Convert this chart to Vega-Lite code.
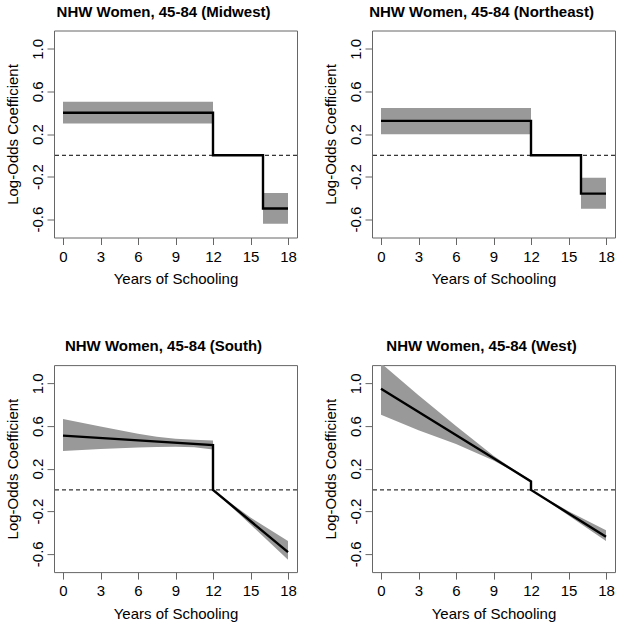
{
  "$schema": "https://vega.github.io/schema/vega-lite/v6.json",
  "background": "white",
  "padding": {"left": 4, "top": 3.5, "right": 0, "bottom": 0},
  "bounds": "flush",
  "columns": 2,
  "spacing": {"row": 127.6, "column": 75},
  "datasets": {
    "lines": [
      {"region": "Midwest", "i": 1, "x": 0, "y": 0.40},
      {"region": "Midwest", "i": 2, "x": 12, "y": 0.40},
      {"region": "Midwest", "i": 3, "x": 12, "y": 0},
      {"region": "Midwest", "i": 4, "x": 16, "y": 0},
      {"region": "Midwest", "i": 5, "x": 16, "y": -0.50},
      {"region": "Midwest", "i": 6, "x": 18, "y": -0.50},
      {"region": "Northeast", "i": 1, "x": 0, "y": 0.323},
      {"region": "Northeast", "i": 2, "x": 12, "y": 0.323},
      {"region": "Northeast", "i": 3, "x": 12, "y": 0},
      {"region": "Northeast", "i": 4, "x": 16, "y": 0},
      {"region": "Northeast", "i": 5, "x": 16, "y": -0.36},
      {"region": "Northeast", "i": 6, "x": 18, "y": -0.36},
      {"region": "South", "i": 1, "x": 0, "y": 0.51},
      {"region": "South", "i": 2, "x": 12, "y": 0.42},
      {"region": "South", "i": 3, "x": 12, "y": 0},
      {"region": "South", "i": 4, "x": 18, "y": -0.585},
      {"region": "West", "i": 1, "x": 0, "y": 0.949},
      {"region": "West", "i": 2, "x": 12, "y": 0.08},
      {"region": "West", "i": 3, "x": 12, "y": 0},
      {"region": "West", "i": 4, "x": 18, "y": -0.441}
    ],
    "bands": [
      {"region": "Midwest", "seg": "a", "x": 0, "lo": 0.298, "hi": 0.504},
      {"region": "Midwest", "seg": "a", "x": 12, "lo": 0.298, "hi": 0.504},
      {"region": "Midwest", "seg": "b", "x": 16, "lo": -0.644, "hi": -0.354},
      {"region": "Midwest", "seg": "b", "x": 18, "lo": -0.644, "hi": -0.354},
      {"region": "Northeast", "seg": "a", "x": 0, "lo": 0.198, "hi": 0.445},
      {"region": "Northeast", "seg": "a", "x": 12, "lo": 0.198, "hi": 0.445},
      {"region": "Northeast", "seg": "b", "x": 16, "lo": -0.503, "hi": -0.21},
      {"region": "Northeast", "seg": "b", "x": 18, "lo": -0.503, "hi": -0.21},
      {"region": "South", "seg": "a", "x": 0, "lo": 0.365, "hi": 0.665},
      {"region": "South", "seg": "a", "x": 3, "lo": 0.385, "hi": 0.595},
      {"region": "South", "seg": "a", "x": 6, "lo": 0.398, "hi": 0.528},
      {"region": "South", "seg": "a", "x": 7.5, "lo": 0.403, "hi": 0.498},
      {"region": "South", "seg": "a", "x": 9, "lo": 0.405, "hi": 0.48},
      {"region": "South", "seg": "a", "x": 10.5, "lo": 0.40, "hi": 0.47},
      {"region": "South", "seg": "a", "x": 12, "lo": 0.38, "hi": 0.465},
      {"region": "South", "seg": "b", "x": 12, "lo": 0, "hi": 0},
      {"region": "South", "seg": "b", "x": 15, "lo": -0.325, "hi": -0.26},
      {"region": "South", "seg": "b", "x": 18, "lo": -0.655, "hi": -0.48},
      {"region": "West", "seg": "a", "x": 0, "lo": 0.705, "hi": 1.19},
      {"region": "West", "seg": "a", "x": 3, "lo": 0.56, "hi": 0.89},
      {"region": "West", "seg": "a", "x": 6, "lo": 0.43, "hi": 0.60},
      {"region": "West", "seg": "a", "x": 9, "lo": 0.275, "hi": 0.32},
      {"region": "West", "seg": "a", "x": 10.5, "lo": 0.18, "hi": 0.20},
      {"region": "West", "seg": "a", "x": 12, "lo": 0.07, "hi": 0.09},
      {"region": "West", "seg": "b", "x": 12, "lo": 0, "hi": 0},
      {"region": "West", "seg": "b", "x": 15, "lo": -0.24, "hi": -0.20},
      {"region": "West", "seg": "b", "x": 18, "lo": -0.48, "hi": -0.38}
    ]
  },
  "concat": [
    {
      "title": {"text": "NHW Women, 45-84 (Midwest)"},
      "width": 243, "height": 207,
      "layer": [
        {"data": {"name": "bands"}, "transform": [{"filter": "datum.region === 'Midwest'"}],
         "mark": {"type": "area", "color": "#999999", "opacity": 1, "clip": true},
         "encoding": {
           "x": {"field": "x", "type": "quantitative", "scale": {"domain": [-0.72, 18.72], "nice": false, "zero": false}, "axis": {"values": [0, 3, 6, 9, 12, 15, 18], "title": "Years of Schooling"}},
           "y": {"field": "lo", "type": "quantitative", "scale": {"domain": [-0.772, 1.172], "nice": false, "zero": false}, "axis": {"values": [-0.6, -0.2, 0.2, 0.6, 1.0], "title": "Log-Odds Coefficient"}},
           "y2": {"field": "hi"},
           "detail": {"field": "seg"}}},
        {"data": {"values": [{}]}, "mark": {"type": "rule", "color": "#000000", "strokeWidth": 1, "strokeDash": [4, 3]}, "encoding": {"y": {"datum": 0}}},
        {"data": {"name": "lines"}, "transform": [{"filter": "datum.region === 'Midwest'"}],
         "mark": {"type": "line", "color": "#000000", "strokeWidth": 2.4, "clip": true},
         "encoding": {"x": {"field": "x", "type": "quantitative"}, "y": {"field": "y", "type": "quantitative"}, "order": {"field": "i"}}}
      ]
    },
    {
      "title": {"text": "NHW Women, 45-84 (Northeast)"},
      "width": 243, "height": 207,
      "layer": [
        {"data": {"name": "bands"}, "transform": [{"filter": "datum.region === 'Northeast'"}],
         "mark": {"type": "area", "color": "#999999", "opacity": 1, "clip": true},
         "encoding": {
           "x": {"field": "x", "type": "quantitative", "scale": {"domain": [-0.72, 18.72], "nice": false, "zero": false}, "axis": {"values": [0, 3, 6, 9, 12, 15, 18], "title": "Years of Schooling"}},
           "y": {"field": "lo", "type": "quantitative", "scale": {"domain": [-0.772, 1.172], "nice": false, "zero": false}, "axis": {"values": [-0.6, -0.2, 0.2, 0.6, 1.0], "title": "Log-Odds Coefficient"}},
           "y2": {"field": "hi"},
           "detail": {"field": "seg"}}},
        {"data": {"values": [{}]}, "mark": {"type": "rule", "color": "#000000", "strokeWidth": 1, "strokeDash": [4, 3]}, "encoding": {"y": {"datum": 0}}},
        {"data": {"name": "lines"}, "transform": [{"filter": "datum.region === 'Northeast'"}],
         "mark": {"type": "line", "color": "#000000", "strokeWidth": 2.4, "clip": true},
         "encoding": {"x": {"field": "x", "type": "quantitative"}, "y": {"field": "y", "type": "quantitative"}, "order": {"field": "i"}}}
      ]
    },
    {
      "title": {"text": "NHW Women, 45-84 (South)"},
      "width": 243, "height": 207,
      "layer": [
        {"data": {"name": "bands"}, "transform": [{"filter": "datum.region === 'South'"}],
         "mark": {"type": "area", "color": "#999999", "opacity": 1, "clip": true},
         "encoding": {
           "x": {"field": "x", "type": "quantitative", "scale": {"domain": [-0.72, 18.72], "nice": false, "zero": false}, "axis": {"values": [0, 3, 6, 9, 12, 15, 18], "title": "Years of Schooling"}},
           "y": {"field": "lo", "type": "quantitative", "scale": {"domain": [-0.772, 1.172], "nice": false, "zero": false}, "axis": {"values": [-0.6, -0.2, 0.2, 0.6, 1.0], "title": "Log-Odds Coefficient"}},
           "y2": {"field": "hi"},
           "detail": {"field": "seg"}}},
        {"data": {"values": [{}]}, "mark": {"type": "rule", "color": "#000000", "strokeWidth": 1, "strokeDash": [4, 3]}, "encoding": {"y": {"datum": 0}}},
        {"data": {"name": "lines"}, "transform": [{"filter": "datum.region === 'South'"}],
         "mark": {"type": "line", "color": "#000000", "strokeWidth": 2.4, "clip": true},
         "encoding": {"x": {"field": "x", "type": "quantitative"}, "y": {"field": "y", "type": "quantitative"}, "order": {"field": "i"}}}
      ]
    },
    {
      "title": {"text": "NHW Women, 45-84 (West)"},
      "width": 243, "height": 207,
      "layer": [
        {"data": {"name": "bands"}, "transform": [{"filter": "datum.region === 'West'"}],
         "mark": {"type": "area", "color": "#999999", "opacity": 1, "clip": true},
         "encoding": {
           "x": {"field": "x", "type": "quantitative", "scale": {"domain": [-0.72, 18.72], "nice": false, "zero": false}, "axis": {"values": [0, 3, 6, 9, 12, 15, 18], "title": "Years of Schooling"}},
           "y": {"field": "lo", "type": "quantitative", "scale": {"domain": [-0.772, 1.172], "nice": false, "zero": false}, "axis": {"values": [-0.6, -0.2, 0.2, 0.6, 1.0], "title": "Log-Odds Coefficient"}},
           "y2": {"field": "hi"},
           "detail": {"field": "seg"}}},
        {"data": {"values": [{}]}, "mark": {"type": "rule", "color": "#000000", "strokeWidth": 1, "strokeDash": [4, 3]}, "encoding": {"y": {"datum": 0}}},
        {"data": {"name": "lines"}, "transform": [{"filter": "datum.region === 'West'"}],
         "mark": {"type": "line", "color": "#000000", "strokeWidth": 2.4, "clip": true},
         "encoding": {"x": {"field": "x", "type": "quantitative"}, "y": {"field": "y", "type": "quantitative"}, "order": {"field": "i"}}}
      ]
    }
  ],
  "config": {
    "font": "Liberation Sans",
    "view": {"stroke": "#666666", "strokeWidth": 1},
    "axis": {
      "grid": false, "domain": false, "ticks": true,
      "tickColor": "#666666", "tickSize": 7, "tickWidth": 1,
      "labelFont": "Liberation Sans", "labelFontSize": 15, "labelColor": "#000000",
      "labelOverlap": false, "labelFlush": false,
      "titleFont": "Liberation Sans", "titleFontSize": 15, "titleFontWeight": "normal", "titleColor": "#000000"
    },
    "axisX": {"labelPadding": 4.5, "titleBaseline": "alphabetic", "titleY": 46, "titleX": 121.5},
    "axisY": {
      "labelAngle": -90, "labelAlign": "center", "labelBaseline": "alphabetic", "labelPadding": 4.6,
      "labelExpr": "datum.value < 0 ? '-' + format(-datum.value, '.1f') : format(datum.value, '.1f')",
      "titleAngle": -90, "titleBaseline": "alphabetic", "titleX": -37, "titleY": 103.5, "titleAlign": "center"
    },
    "title": {"font": "Liberation Sans", "fontSize": 15, "fontWeight": "bold", "color": "#000000", "anchor": "middle", "dx": -12, "baseline": "alphabetic", "offset": 11, "frame": "group"}
  }
}
